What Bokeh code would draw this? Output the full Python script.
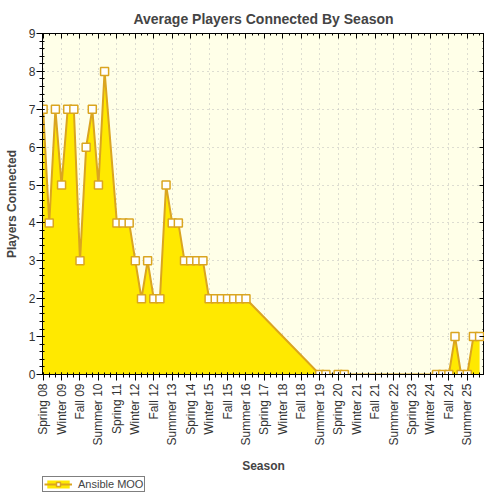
import math
from bokeh.plotting import figure
from bokeh.layouts import column
from bokeh.models import Range1d, FixedTicker, LinearAxis, Legend, LegendItem
from bokeh.embed import file_html
from bokeh.resources import INLINE

# average players per season, one entry per season starting Spring 08 (None = no data)
players = [7, 4, 7, 5, 7, 7, 3, 6, 7, 5,
           8, None, 4, 4, 4, 3, 2, 3, 2, 2,
           5, 4, 4, 3, 3, 3, 3, 2, 2, 2,
           2, 2, 2, 2, None, None, None, None, None, None,
           None, None, None, None, None, 0, 0, None, 0, 0,
           None, None, None, None, None, None, None, None, None, None,
           None, None, None, None, 0, 0, 0, 1, 0, 0,
           1, 1]

tick_labels = ["Spring 08", "Winter 09", "Fall 09", "Summer 10", "Spring 11",
               "Winter 12", "Fall 12", "Summer 13", "Spring 14", "Winter 15",
               "Fall 15", "Summer 16", "Spring 17", "Winter 18", "Fall 18",
               "Summer 19", "Spring 20", "Winter 21", "Fall 21", "Summer 22",
               "Spring 23", "Winter 24", "Fall 24", "Summer 25"]

series_name = "Ansible MOO"

xs = [i for i, v in enumerate(players) if v is not None]
ys = [v for v in players if v is not None]
tick_pos = list(range(0, 3 * len(tick_labels), 3))

FONT = "Liberation Sans"
GOLD = "#DAA520"
FILL = "#FFE900"


def draw_series(fig):
    a = fig.varea(x=xs, y1=0, y2=ys, fill_color=FILL)
    l = fig.line(xs, ys, line_color=GOLD, line_width=2)
    s = fig.scatter(xs, ys, marker="square", size=8, fill_color="white",
                    line_color=GOLD, line_width=1.5)
    return [a, l, s]


p = figure(width=484, height=476, output_backend="svg", toolbar_location=None,
           x_range=Range1d(-0.1, 71.8), y_range=Range1d(0, 9),
           title="Average Players Connected By Season",
           x_axis_label="Season", y_axis_label="Players Connected",
           min_border_left=42, min_border_right=0, min_border_top=33,
           min_border_bottom=102)
p.background_fill_color = "#FFFFE8"
p.border_fill_color = "white"
p.outline_line_color = "black"

p.title.align = "center"
p.title.text_font = FONT
p.title.text_font_size = "14px"
p.title.text_font_style = "bold"
p.title.standoff = 14

draw_series(p)

xticker = FixedTicker(ticks=tick_pos, minor_ticks=list(range(72)))
yticker = FixedTicker(ticks=list(range(10)), minor_ticks=[i / 5 for i in range(46)])

xa = p.xaxis[0]
xa.ticker = xticker
xa.major_label_overrides = {t: lab for t, lab in zip(tick_pos, tick_labels)}
xa.major_label_orientation = math.pi / 2

ya = p.yaxis[0]
ya.ticker = yticker

for ax in (xa, ya):
    ax.major_label_text_font = FONT
    ax.major_label_text_font_size = "12px"
    ax.major_label_text_color = "#333333"
    ax.axis_label_text_font = FONT
    ax.axis_label_text_font_size = "12px"
    ax.axis_label_text_font_style = "bold"
    ax.axis_line_color = "black"
    ax.major_tick_line_color = "black"
    ax.minor_tick_line_color = "black"
    ax.major_tick_in = 2
    ax.major_tick_out = 6
    ax.minor_tick_in = 2
    ax.minor_tick_out = 3
    ax.major_label_standoff = 3
ya.major_label_standoff = 1
xa.axis_label_standoff = 10
ya.axis_label_standoff = 7

# frame edges on top and right with inward ticks, no labels
top = LinearAxis(ticker=xticker, major_label_text_color=None,
                 major_label_overrides={t: "" for t in tick_pos},
                 major_label_standoff=0, axis_label_standoff=0,
                 major_tick_in=5, major_tick_out=0,
                 minor_tick_in=2, minor_tick_out=0)
right = LinearAxis(ticker=yticker, major_label_text_color=None,
                   major_label_overrides={t: "" for t in range(10)},
                   major_label_standoff=0, axis_label_standoff=0,
                   major_tick_in=5, major_tick_out=0,
                   minor_tick_in=2, minor_tick_out=0)
p.add_layout(top, "above")
p.add_layout(right, "right")

for g in (p.xgrid, p.ygrid):
    g.grid_line_color = "#BBBBBB"
    g.grid_line_dash = "1 4"
p.ygrid.ticker = FixedTicker(ticks=list(range(10)))
p.xgrid.ticker = FixedTicker(ticks=tick_pos)

# legend strip under the chart (series drawn hidden, only used for the key)
lg = figure(width=484, height=20, output_backend="svg", toolbar_location=None,
            x_axis_type=None, y_axis_type=None,
            min_border_left=40, min_border_right=0, min_border_top=0,
            min_border_bottom=0)
lg.outline_line_color = None
lg.xgrid.visible = False
lg.ygrid.visible = False
key_renderers = draw_series(lg)
for r in key_renderers:
    r.visible = False
legend = Legend(items=[LegendItem(label=series_name, renderers=key_renderers)],
                location="top_left", orientation="horizontal",
                border_line_color="black", border_line_width=1,
                padding=1, margin=0, spacing=0,
                inactive_fill_alpha=0,
                label_text_font=FONT, label_text_font_size="11px",
                label_height=11, glyph_height=10, glyph_width=28,
                label_standoff=6)
lg.add_layout(legend)

layout = column(p, lg, spacing=0)
open("out.html", "w").write(file_html(layout, INLINE))
